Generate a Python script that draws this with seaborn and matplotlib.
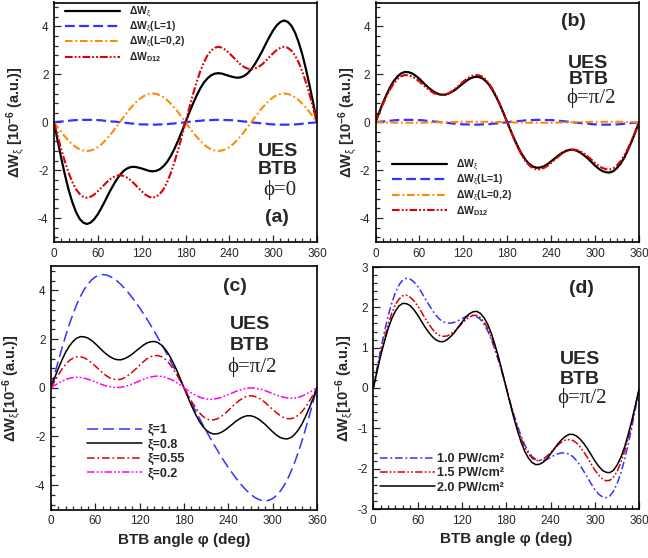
import numpy as np
import pandas as pd
import matplotlib
matplotlib.use("Agg")
import matplotlib.pyplot as plt
import seaborn as sns
from matplotlib.ticker import MultipleLocator
from matplotlib.font_manager import FontProperties

# ---------------- data ----------------
angle = list(range(0, 365, 5))

# panel (a)  phi = 0
a_total = [0, -0.77, -1.51, -2.20, -2.82, -3.33, -3.74, -4.03, -4.19, -4.25, -4.19, -4.05, -3.84, -3.57, -3.28, -2.97, -2.69, -2.43,
           -2.21, -2.04, -1.93, -1.87, -1.86, -1.89, -1.93, -1.98, -2.03, -2.05, -2.03, -1.96, -1.83, -1.65, -1.40, -1.10, -0.76, -0.39, 0,
           0.39, 0.76, 1.10, 1.40, 1.65, 1.83, 1.96, 2.03, 2.05, 2.03, 1.98, 1.93, 1.89, 1.86, 1.87, 1.93, 2.04, 2.21,
           2.43, 2.69, 2.97, 3.28, 3.57, 3.84, 4.05, 4.19, 4.25, 4.19, 4.03, 3.74, 3.33, 2.82, 2.20, 1.51, 0.77, 0]
a_L1 = [0, 0.02, 0.03, 0.05, 0.06, 0.08, 0.09, 0.09, 0.10, 0.10, 0.10, 0.09, 0.09, 0.08, 0.06, 0.05, 0.03, 0.02,
        0, -0.02, -0.03, -0.05, -0.06, -0.08, -0.09, -0.09, -0.10, -0.10, -0.10, -0.09, -0.09, -0.08, -0.06, -0.05, -0.03, -0.02, 0,
        0.02, 0.03, 0.05, 0.06, 0.08, 0.09, 0.09, 0.10, 0.10, 0.10, 0.09, 0.09, 0.08, 0.06, 0.05, 0.03, 0.02, 0,
        -0.02, -0.03, -0.05, -0.06, -0.08, -0.09, -0.09, -0.10, -0.10, -0.10, -0.09, -0.09, -0.08, -0.06, -0.05, -0.03, -0.02, 0]
a_L02 = [0, -0.21, -0.41, -0.60, -0.77, -0.92, -1.04, -1.13, -1.18, -1.20, -1.18, -1.13, -1.04, -0.92, -0.77, -0.60, -0.41, -0.21,
         0, 0.21, 0.41, 0.60, 0.77, 0.92, 1.04, 1.13, 1.18, 1.20, 1.18, 1.13, 1.04, 0.92, 0.77, 0.60, 0.41, 0.21, 0,
         -0.21, -0.41, -0.60, -0.77, -0.92, -1.04, -1.13, -1.18, -1.20, -1.18, -1.13, -1.04, -0.92, -0.77, -0.60, -0.41, -0.21, 0,
         0.21, 0.41, 0.60, 0.77, 0.92, 1.04, 1.13, 1.18, 1.20, 1.18, 1.13, 1.04, 0.92, 0.77, 0.60, 0.41, 0.21, 0]
a_D12 = [0, -0.58, -1.14, -1.65, -2.11, -2.49, -2.79, -2.99, -3.11, -3.15, -3.11, -3.02, -2.88, -2.73, -2.57, -2.42, -2.31, -2.24,
         -2.21, -2.24, -2.31, -2.42, -2.57, -2.73, -2.88, -3.02, -3.11, -3.15, -3.11, -2.99, -2.79, -2.49, -2.11, -1.65, -1.14, -0.58, 0,
         0.58, 1.14, 1.65, 2.11, 2.49, 2.79, 2.99, 3.11, 3.15, 3.11, 3.02, 2.88, 2.73, 2.57, 2.42, 2.31, 2.24, 2.21,
         2.24, 2.31, 2.42, 2.57, 2.73, 2.88, 3.02, 3.11, 3.15, 3.11, 2.99, 2.79, 2.49, 2.11, 1.65, 1.14, 0.58, 0]

# panel (b)  phi = pi/2
b_total = [0, 0.41, 0.80, 1.15, 1.47, 1.72, 1.91, 2.04, 2.10, 2.09, 2.04, 1.94, 1.81, 1.66, 1.51, 1.38, 1.27, 1.19,
           1.15, 1.15, 1.20, 1.28, 1.38, 1.51, 1.63, 1.75, 1.84, 1.89, 1.90, 1.85, 1.74, 1.57, 1.34, 1.05, 0.73, 0.37, 0,
           -0.37, -0.73, -1.05, -1.34, -1.57, -1.74, -1.85, -1.90, -1.89, -1.84, -1.75, -1.63, -1.51, -1.38, -1.28, -1.20, -1.15, -1.15,
           -1.19, -1.27, -1.38, -1.51, -1.66, -1.81, -1.94, -2.04, -2.09, -2.10, -2.04, -1.91, -1.72, -1.47, -1.15, -0.80, -0.41, 0]
b_L1 = [0, 0.02, 0.03, 0.05, 0.06, 0.08, 0.09, 0.09, 0.10, 0.10, 0.10, 0.09, 0.09, 0.08, 0.06, 0.05, 0.03, 0.02,
        0, -0.02, -0.03, -0.05, -0.06, -0.08, -0.09, -0.09, -0.10, -0.10, -0.10, -0.09, -0.09, -0.08, -0.06, -0.05, -0.03, -0.02, 0,
        0.02, 0.03, 0.05, 0.06, 0.08, 0.09, 0.09, 0.10, 0.10, 0.10, 0.09, 0.09, 0.08, 0.06, 0.05, 0.03, 0.02, 0,
        -0.02, -0.03, -0.05, -0.06, -0.08, -0.09, -0.09, -0.10, -0.10, -0.10, -0.09, -0.09, -0.08, -0.06, -0.05, -0.03, -0.02, 0]
b_L02 = [0, 0.00, -0.01, -0.01, -0.01, -0.02, -0.02, -0.02, -0.02, -0.02, -0.02, -0.02, -0.02, -0.02, -0.01, -0.01, -0.01, 0.00,
         0, 0.00, 0.01, 0.01, 0.01, 0.02, 0.02, 0.02, 0.02, 0.02, 0.02, 0.02, 0.02, 0.02, 0.01, 0.01, 0.01, 0.00, 0,
         0.00, -0.01, -0.01, -0.01, -0.02, -0.02, -0.02, -0.02, -0.02, -0.02, -0.02, -0.02, -0.02, -0.01, -0.01, -0.01, 0.00, 0,
         0.00, 0.01, 0.01, 0.01, 0.02, 0.02, 0.02, 0.02, 0.02, 0.02, 0.02, 0.02, 0.02, 0.01, 0.01, 0.01, 0.00, 0]
b_D12 = [0, 0.38, 0.75, 1.09, 1.38, 1.62, 1.80, 1.92, 1.97, 1.96, 1.91, 1.82, 1.70, 1.56, 1.43, 1.31, 1.21, 1.16,
         1.14, 1.16, 1.21, 1.31, 1.43, 1.56, 1.70, 1.82, 1.91, 1.96, 1.97, 1.92, 1.80, 1.62, 1.38, 1.09, 0.75, 0.38, 0,
         -0.38, -0.75, -1.09, -1.38, -1.62, -1.80, -1.92, -1.97, -1.96, -1.91, -1.82, -1.70, -1.56, -1.43, -1.31, -1.21, -1.16, -1.14,
         -1.16, -1.21, -1.31, -1.43, -1.56, -1.70, -1.82, -1.91, -1.96, -1.97, -1.92, -1.80, -1.62, -1.38, -1.09, -0.75, -0.38, 0]

# panel (c)  different xi
c_xi1 = [0, 0.56, 1.11, 1.64, 2.15, 2.62, 3.05, 3.43, 3.76, 4.04, 4.26, 4.43, 4.55, 4.62, 4.65, 4.63, 4.57, 4.49,
         4.37, 4.23, 4.07, 3.89, 3.70, 3.49, 3.28, 3.05, 2.81, 2.56, 2.31, 2.04, 1.77, 1.49, 1.20, 0.91, 0.61, 0.30, 0,
         -0.30, -0.61, -0.91, -1.20, -1.49, -1.77, -2.04, -2.31, -2.56, -2.81, -3.05, -3.28, -3.49, -3.70, -3.89, -4.07, -4.23, -4.37,
         -4.49, -4.57, -4.63, -4.65, -4.62, -4.55, -4.43, -4.26, -4.04, -3.76, -3.43, -3.05, -2.62, -2.15, -1.64, -1.11, -0.56, 0]
c_xi08 = [0, 0.41, 0.80, 1.15, 1.47, 1.72, 1.91, 2.04, 2.10, 2.09, 2.04, 1.94, 1.81, 1.66, 1.51, 1.38, 1.27, 1.19,
          1.15, 1.15, 1.20, 1.28, 1.38, 1.51, 1.63, 1.75, 1.84, 1.89, 1.90, 1.85, 1.74, 1.57, 1.34, 1.05, 0.73, 0.37, 0,
          -0.37, -0.73, -1.05, -1.34, -1.57, -1.74, -1.85, -1.90, -1.89, -1.84, -1.75, -1.63, -1.51, -1.38, -1.28, -1.20, -1.15, -1.15,
          -1.19, -1.27, -1.38, -1.51, -1.66, -1.81, -1.94, -2.04, -2.09, -2.10, -2.04, -1.91, -1.72, -1.47, -1.15, -0.80, -0.41, 0]
c_xi055 = [0, 0.27, 0.53, 0.77, 0.97, 1.12, 1.22, 1.27, 1.27, 1.23, 1.14, 1.02, 0.89, 0.75, 0.61, 0.49, 0.40, 0.35,
           0.33, 0.35, 0.42, 0.52, 0.64, 0.78, 0.93, 1.07, 1.19, 1.28, 1.32, 1.32, 1.27, 1.16, 1.00, 0.79, 0.55, 0.28, 0,
           -0.28, -0.55, -0.79, -1.00, -1.16, -1.27, -1.32, -1.32, -1.28, -1.19, -1.07, -0.93, -0.78, -0.64, -0.52, -0.42, -0.35, -0.33,
           -0.35, -0.40, -0.49, -0.61, -0.75, -0.89, -1.02, -1.14, -1.23, -1.27, -1.27, -1.22, -1.12, -0.97, -0.77, -0.53, -0.27, 0]
c_xi02 = [0, 0.10, 0.19, 0.27, 0.34, 0.39, 0.42, 0.43, 0.42, 0.39, 0.35, 0.30, 0.24, 0.18, 0.12, 0.07, 0.04, 0.01,
          0.01, 0.02, 0.05, 0.10, 0.15, 0.22, 0.28, 0.34, 0.40, 0.44, 0.47, 0.48, 0.46, 0.43, 0.37, 0.30, 0.21, 0.11, 0,
          -0.11, -0.21, -0.30, -0.37, -0.43, -0.46, -0.48, -0.47, -0.44, -0.40, -0.34, -0.28, -0.22, -0.15, -0.10, -0.05, -0.02, -0.01,
          -0.01, -0.04, -0.07, -0.12, -0.18, -0.24, -0.30, -0.35, -0.39, -0.42, -0.43, -0.42, -0.39, -0.34, -0.27, -0.19, -0.10, 0]

# panel (d)  different intensities
d_10 = [0, 0.49, 0.96, 1.39, 1.78, 2.11, 2.37, 2.56, 2.68, 2.72, 2.70, 2.63, 2.52, 2.38, 2.22, 2.07, 1.92, 1.80,
        1.70, 1.64, 1.61, 1.61, 1.63, 1.67, 1.72, 1.77, 1.80, 1.80, 1.77, 1.70, 1.58, 1.41, 1.19, 0.93, 0.64, 0.33, 0,
        -0.33, -0.64, -0.93, -1.19, -1.41, -1.58, -1.70, -1.77, -1.80, -1.80, -1.77, -1.72, -1.67, -1.63, -1.61, -1.61, -1.64, -1.70,
        -1.80, -1.92, -2.07, -2.22, -2.38, -2.52, -2.63, -2.70, -2.72, -2.68, -2.56, -2.37, -2.11, -1.78, -1.39, -0.96, -0.49, 0]
d_15 = [0, 0.43, 0.85, 1.23, 1.57, 1.85, 2.07, 2.21, 2.29, 2.30, 2.25, 2.16, 2.04, 1.89, 1.73, 1.59, 1.46, 1.36,
        1.30, 1.28, 1.29, 1.34, 1.41, 1.50, 1.60, 1.69, 1.76, 1.80, 1.80, 1.74, 1.63, 1.47, 1.25, 0.98, 0.68, 0.35, 0,
        -0.35, -0.68, -0.98, -1.25, -1.47, -1.63, -1.74, -1.80, -1.80, -1.76, -1.69, -1.60, -1.50, -1.41, -1.34, -1.29, -1.28, -1.30,
        -1.36, -1.46, -1.59, -1.73, -1.89, -2.04, -2.16, -2.25, -2.30, -2.29, -2.21, -2.07, -1.85, -1.57, -1.23, -0.85, -0.43, 0]
d_20 = [0, 0.41, 0.80, 1.15, 1.47, 1.72, 1.91, 2.04, 2.10, 2.09, 2.04, 1.94, 1.81, 1.66, 1.51, 1.38, 1.27, 1.19,
        1.15, 1.15, 1.20, 1.28, 1.38, 1.51, 1.63, 1.75, 1.84, 1.89, 1.90, 1.85, 1.74, 1.57, 1.34, 1.05, 0.73, 0.37, 0,
        -0.37, -0.73, -1.05, -1.34, -1.57, -1.74, -1.85, -1.90, -1.89, -1.84, -1.75, -1.63, -1.51, -1.38, -1.28, -1.20, -1.15, -1.15,
        -1.19, -1.27, -1.38, -1.51, -1.66, -1.81, -1.94, -2.04, -2.09, -2.10, -2.04, -1.91, -1.72, -1.47, -1.15, -0.80, -0.41, 0]

xticks = [0, 60, 120, 180, 240, 300, 360]

# ---------------- style ----------------
sns.set_style("ticks")
plt.rcParams['font.family'] = ['Liberation Sans', 'DejaVu Sans']
plt.rcParams['mathtext.fontset'] = 'custom'
plt.rcParams['mathtext.rm'] = 'Liberation Sans'
plt.rcParams['mathtext.bf'] = 'Liberation Sans:bold'
plt.rcParams['mathtext.it'] = 'Liberation Sans:italic'
plt.rcParams['mathtext.sf'] = 'Liberation Sans'
plt.rcParams['axes.unicode_minus'] = False
plt.rcParams['lines.scale_dashes'] = False

BLUE = '#3333ff'
ORANGE = '#ff8c00'
RED = '#dd0000'
MAGENTA = '#ff00ff'

DASH = (7, 3.2)
DASHDOT = (5.5, 2, 1.3, 2)
DASHDOTDOT = (5.5, 1.5, 1.3, 1.5, 1.3, 1.5)

fig = plt.figure(figsize=(6.48, 5.58), dpi=100)
W, H = 648.0, 558.0
axA = fig.add_axes([54 / W, 1 - 242 / H, 263 / W, 239.5 / H])
axB = fig.add_axes([375.5 / W, 1 - 242 / H, 263.5 / W, 239.5 / H])
axC = fig.add_axes([51 / W, 1 - 509.5 / H, 266 / W, 243.5 / H])
axD = fig.add_axes([373.3 / W, 1 - 509 / H, 266 / W, 242 / H])


def draw(ax, y, color, lw, dashes, label):
    sns.lineplot(x=angle, y=y, ax=ax, color=color, linewidth=lw, label=label,
                 errorbar=None, sort=False)
    line = ax.lines[-1]
    if dashes is not None:
        line.set_dashes(dashes)
    return line


def frame(ax, ymin, ymax, ymaj, ymin_step):
    ax.set_xlim(0, 360)
    ax.set_ylim(ymin, ymax)
    ax.set_xticks(xticks)
    ax.xaxis.set_minor_locator(MultipleLocator(10))
    ax.yaxis.set_major_locator(MultipleLocator(ymaj))
    ax.yaxis.set_minor_locator(MultipleLocator(ymin_step))
    ax.tick_params(which='both', direction='in', top=False, right=False, width=0.9)
    ax.tick_params(which='major', length=5, labelsize=8.5, pad=4)
    ax.tick_params(which='minor', length=3)
    for s in ax.spines.values():
        s.set_linewidth(1.2)
        s.set_color('black')


xi = r'$_{\mathrm{\xi}}$'
lab_tot = 'ΔW' + xi
lab_L1 = 'ΔW' + xi + '(L=1)'
lab_L02 = 'ΔW' + xi + '(L=0,2)'
lab_D12 = 'ΔW' + r'$_{\mathbf{D12}}$'


def legend(ax, anchor, size, hl, spacing, pad=0.8):
    h, l = ax.get_legend_handles_labels()
    ax.legend(h, l, loc='upper left', bbox_to_anchor=anchor, frameon=False,
              prop=FontProperties(family='Liberation Sans', weight='bold', size=size),
              handlelength=hl, handletextpad=pad, labelspacing=spacing,
              borderpad=0, borderaxespad=0)


def annot(ax, x, y1, y2, y3, phi, tag, tagxy):
    ax.text(x, y1, 'UES', ha='center', va='center', fontsize=14, fontweight='bold')
    ax.text(x, y2, 'BTB', ha='center', va='center', fontsize=14, fontweight='bold')
    ax.text(x + 3, y3, phi, ha='center', va='center', fontsize=15, family='Liberation Serif')
    ax.text(tagxy[0], tagxy[1], tag, ha='center', va='center', fontsize=14, fontweight='bold')


ylab_ab = 'ΔW' + xi + ' [10' + r'$^{\mathbf{-6}}$' + ' (a.u.)]'
ylab_cd = 'ΔW' + xi + '[10' + r'$^{\mathbf{-6}}$' + ' (a.u.)]'

# ---------------- panel (a) ----------------
draw(axA, a_total, 'black', 1.6, None, lab_tot)
draw(axA, a_L1, BLUE, 1.6, DASH, lab_L1)
draw(axA, a_L02, ORANGE, 1.5, DASHDOT, lab_L02)
draw(axA, a_D12, RED, 1.5, DASHDOTDOT, lab_D12)
frame(axA, -5, 5, 2, 0.4)
legend(axA, (0.042, 0.99), 7.5, 5.3, 0.02)
annot(axA, 306, -1.22, -1.98, -2.81, 'ϕ=0', '(a)', (305, -3.99))
axA.set_xlabel('')
axA.set_ylabel(ylab_ab, fontsize=10.5, fontweight='bold')
axA.yaxis.set_label_coords(-0.10, 0.5)

# ---------------- panel (b) ----------------
draw(axB, b_total, 'black', 1.6, None, lab_tot)
draw(axB, b_L1, BLUE, 1.6, DASH, lab_L1)
draw(axB, b_L02, ORANGE, 1.5, DASHDOT, lab_L02)
draw(axB, b_D12, RED, 1.5, DASHDOTDOT, lab_D12)
frame(axB, -5, 5, 2, 0.4)
legend(axB, (0.063, 0.35), 7.5, 5.3, 0.02)
annot(axB, 291, 2.47, 1.77, 1.0, 'ϕ=π/2', '(b)', (270, 4.2))
axB.set_xlabel('')
axB.set_ylabel(ylab_ab, fontsize=10.5, fontweight='bold')
axB.yaxis.set_label_coords(-0.06, 0.5)

# ---------------- panel (c) ----------------
draw(axC, c_xi1, BLUE, 1.1, (8, 3.5), 'ξ=1')
draw(axC, c_xi08, 'black', 1.1, None, 'ξ=0.8')
draw(axC, c_xi055, RED, 1.1, DASHDOT, 'ξ=0.55')
draw(axC, c_xi02, MAGENTA, 1.1, DASHDOTDOT, 'ξ=0.2')
frame(axC, -5, 5, 2, 0.4)
legend(axC, (0.137, 0.35), 9, 4.4, 0.2, pad=0.4)
annot(axC, 269, 2.59, 1.72, 0.87, 'ϕ=π/2', '(c)', (249, 4.16))
axC.set_xlabel('BTB angle φ (deg)', fontsize=11, fontweight='bold')
axC.set_ylabel(ylab_cd, fontsize=10.5, fontweight='bold')
axC.yaxis.set_label_coords(-0.10, 0.5)

# ---------------- panel (d) ----------------
draw(axD, d_10, BLUE, 1.1, DASHDOT, '1.0 PW/cm²')
draw(axD, d_15, RED, 1.1, DASHDOTDOT, '1.5 PW/cm²')
draw(axD, d_20, 'black', 1.1, None, '2.0 PW/cm²')
frame(axD, -3, 3, 1, 0.2)
legend(axD, (0.025, 0.23), 9, 4.4, 0.17, pad=0.2)
annot(axD, 280, 0.70, 0.21, -0.26, 'ϕ=π/2', '(d)', (282, 2.46))
axD.set_xlabel('BTB angle φ (deg)', fontsize=11, fontweight='bold')
axD.set_ylabel(ylab_cd, fontsize=10.5, fontweight='bold')
axD.yaxis.set_label_coords(-0.06, 0.5)

fig.savefig('out.png', dpi=100)
